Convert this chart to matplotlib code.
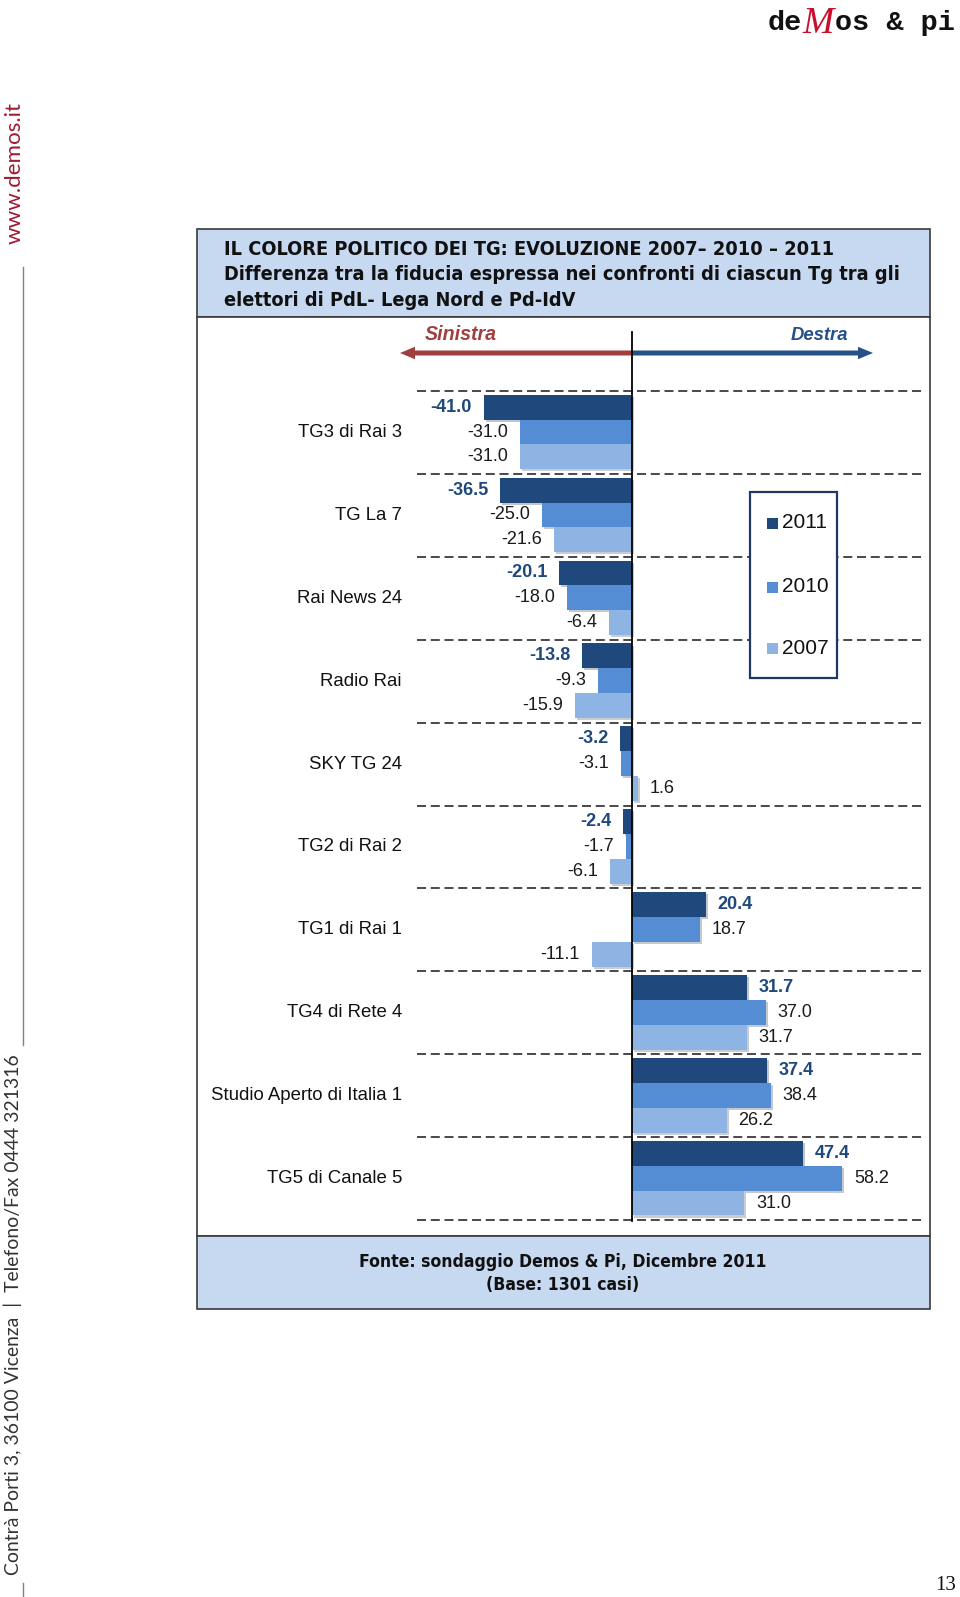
import matplotlib
matplotlib.use('Agg')
import matplotlib.pyplot as plt
from matplotlib import font_manager
from matplotlib.patches import Rectangle, FancyArrowPatch
from matplotlib.lines import Line2D
import matplotlib.patheffects as pe

plt.rcParams['lines.scale_dashes'] = False

# ---------------- data ----------------
categories = ['TG3 di Rai 3', 'TG La 7', 'Rai News 24', 'Radio Rai', 'SKY TG 24',
              'TG2 di Rai 2', 'TG1 di Rai 1', 'TG4 di Rete 4',
              'Studio Aperto di Italia 1', 'TG5 di Canale 5']
v2011 = [-41.0, -36.5, -20.1, -13.8, -3.2, -2.4, 20.4, 31.7, 37.4, 47.4]
v2010 = [-31.0, -25.0, -18.0, -9.3, -3.1, -1.7, 18.7, 37.0, 38.4, 58.2]
v2007 = [-31.0, -21.6, -6.4, -15.9, 1.6, -6.1, -11.1, 31.7, 26.2, 31.0]
years = ['2011', '2010', '2007']
series = [v2011, v2010, v2007]
colors = ['#1f497d', '#548dd4', '#8eb4e3']

title_lines = ['IL COLORE POLITICO DEI TG: EVOLUZIONE 2007\u2013 2010 \u2013 2011',
               'Differenza tra la fiducia espressa nei confronti di ciascun Tg tra gli',
               'elettori di PdL- Lega Nord e Pd-IdV']
footer_lines = ['Fonte: sondaggio Demos & Pi, Dicembre 2011', '(Base: 1301 casi)']
left_word = 'Sinistra'
right_word = 'Destra'
site_text = 'www.demos.it'
address_text = 'Contr\u00e0 Porti 3, 36100 Vicenza  |  Telefono/Fax 0444 321316'
page_number = '13'

# ---------------- figure ----------------
W, H = 960, 1597
fig = plt.figure(figsize=(W / 100, H / 100), dpi=100)
fig.patch.set_facecolor('white')
renderer = fig.canvas.get_renderer()


def fx(x):
    return x / W


def fy(y):
    return 1 - y / H


def has_font(name):
    try:
        font_manager.findfont(font_manager.FontProperties(family=name),
                              fallback_to_default=False)
        return True
    except Exception:
        return False


# pick a condensed bold face if one exists
NARROW_KW = dict(family=['Liberation Sans'])
if has_font('Liberation Sans Narrow'):
    NARROW_KW = dict(family=['Liberation Sans Narrow'])
else:
    try:
        p = font_manager.findfont(font_manager.FontProperties(
            family='DejaVu Sans', stretch='condensed', weight='bold'))
        if 'Condensed' in p:
            NARROW_KW = dict(family=['DejaVu Sans'], stretch='condensed')
        elif has_font('Roboto'):
            NARROW_KW = dict(family=['Roboto'])
    except Exception:
        pass
SANS = 'Liberation Sans'
HUMAN = 'Lato' if has_font('Lato') else 'Open Sans'


def fit(t, target, vertical=False):
    bb = t.get_window_extent(renderer)
    cur = bb.height if vertical else bb.width
    t.set_fontsize(t.get_fontsize() * target / cur)
    return t.get_fontsize()


# ---------------- boxes ----------------
L, R = 196.5, 929.5
box_kw = dict(transform=fig.transFigure, edgecolor='#3a3a3a', lw=1.2, zorder=-1)
fig.add_artist(Rectangle((fx(L), fy(317)), (R - L) / W, (317 - 229) / H,
                         facecolor='#c6d9f1', **box_kw))
fig.add_artist(Rectangle((fx(L), fy(1236)), (R - L) / W, (1236 - 317) / H,
                         facecolor='white', **box_kw))
fig.add_artist(Rectangle((fx(L), fy(1309)), (R - L) / W, (1309 - 1236) / H,
                         facecolor='#c6d9f1', **box_kw))

# title
tt = []
for i, line in enumerate(title_lines):
    tt.append(fig.text(fx(224), fy([249.5, 275, 300.5][i]), line, ha='left', va='center',
                       fontsize=14, fontweight='bold', color='#111111', **NARROW_KW))
fs = fit(tt[1], 679)
for t in tt:
    t.set_fontsize(fs)

# footer
ft = []
for i, line in enumerate(footer_lines):
    ft.append(fig.text(fx(563), fy([1262, 1284.5][i]), line, ha='center', va='center',
                       fontsize=13, fontweight='bold', color='#111111', **NARROW_KW))
fs = fit(ft[0], 406)
for t in ft:
    t.set_fontsize(fs)

# ---------------- chart axes ----------------
x_left_px, x_right_px, zero_px, ppu = 417, 922, 632, 3.615
top_px, bot_px = 391, 1220
ax = fig.add_axes([fx(x_left_px), fy(bot_px), (x_right_px - x_left_px) / W,
                   (bot_px - top_px) / H])
ax.set_zorder(2)
ax.set_xlim((x_left_px - zero_px) / ppu, (x_right_px - zero_px) / ppu)
ax.set_ylim(len(categories), 0)
ax.axis('off')

bh = 0.30
off = 0.045
shadow = [pe.SimplePatchShadow(offset=(1.5, -1.5), alpha=0.25), pe.Normal()]
for k, (vals, c) in enumerate(zip(series, colors)):
    ys = [i + off + bh * k + bh / 2 for i in range(len(categories))]
    ax.barh(ys, vals, height=bh, color=c, path_effects=shadow, zorder=3)
    for y, v in zip(ys, vals):
        ax.annotate(f'{v:.1f}', (v, y), xytext=(-8.5 if v < 0 else 8.5, 0),
                    textcoords='offset points', ha='right' if v < 0 else 'left',
                    va='center', fontsize=13, family=SANS,
                    fontweight='bold' if k == 0 else 'normal',
                    color='#1f497d' if k == 0 else '#1a1a1a', zorder=4)

for i in range(len(categories) + 1):
    ax.axhline(i, color='#3a3a3a', lw=1.3, linestyle=(0, (6.5, 3.4)), zorder=1,
               clip_on=False)

# category labels
ct = []
for i, cat in enumerate(categories):
    ct.append(fig.text(fx(402), fy(top_px + (i + 0.5) * (bot_px - top_px) / len(categories)),
                       cat, ha='right', va='center', fontsize=13.5, family=SANS,
                       color='#111111'))
fs = fit(ct[8], 191)
for t in ct:
    t.set_fontsize(fs)

# zero line
fig.add_artist(Line2D([fx(zero_px), fx(zero_px)], [fy(332), fy(1221)], color='black',
                      lw=1.3, transform=fig.transFigure, zorder=5))

# direction arrows
for x_end, col in [(400, '#a0403e'), (873, '#25508a')]:
    fig.add_artist(FancyArrowPatch((fx(zero_px), fy(353)), (fx(x_end), fy(353)),
                                   transform=fig.transFigure, shrinkA=0, shrinkB=0,
                                   arrowstyle='simple,head_length=0.6,head_width=0.5,tail_width=0.2',
                                   mutation_scale=18, color=col, lw=0))
t = fig.text(fx(461), fy(335), left_word, ha='center', va='center', fontsize=14,
             style='italic', fontweight='bold', family=SANS, color='#a0403e')
fit(t, 72)
t = fig.text(fx(819), fy(335), right_word, ha='center', va='center', fontsize=14,
             style='italic', fontweight='bold', family=SANS, color='#25508a')
fit(t, 58)

# legend (drawn above the chart's dashed lines)
fig.add_artist(Rectangle((fx(750), fy(678)), 87 / W, 186 / H, transform=fig.transFigure,
                         facecolor='white', edgecolor='#1f3864', lw=1.6, zorder=6))
for yy, lab, c in zip([523, 587, 648], years, colors):
    fig.add_artist(Rectangle((fx(767), fy(yy + 5.5)), 11 / W, 11 / H,
                             transform=fig.transFigure, facecolor=c, edgecolor='none',
                             zorder=7))
    fig.text(fx(782), fy(yy), lab, ha='left', va='center', fontsize=15, family=SANS,
             color='#111111', zorder=7)

# ---------------- page decorations ----------------
# logo
fig.text(fx(768), fy(30), 'de', ha='left', va='baseline', fontsize=20.5,
         family='Liberation Mono', fontweight='bold', color='#111111')
fig.text(fx(818), fy(33), 'M', ha='center', va='baseline', fontsize=27,
         family='Liberation Serif', style='italic', color='#c8102e')
fig.text(fx(835), fy(30), 'os & pi', ha='left', va='baseline', fontsize=20.5,
         family='Liberation Mono', fontweight='bold', color='#111111')

# left margin
t = fig.text(fx(15), fy(173), site_text, rotation=90, ha='center', va='center',
             fontsize=16, family=HUMAN, color='#9e1b32')
fit(t, 142, vertical=True)
fig.add_artist(Line2D([fx(22.5), fx(22.5)], [fy(267), fy(1045)], color='#808080', lw=1.0,
                      transform=fig.transFigure))
t = fig.text(fx(13), fy(1315), address_text, rotation=90, ha='center', va='center',
             fontsize=14, family=HUMAN, color='#333333')
fit(t, 522, vertical=True)
fig.add_artist(Line2D([fx(22.5), fx(22.5)], [fy(1583), fy(1597)], color='#808080', lw=1.0,
                      transform=fig.transFigure))

# page number
fig.text(fx(946), fy(1585), page_number, ha='center', va='center', fontsize=15,
         family='Liberation Serif', color='#111111')

fig.savefig('out.png', dpi=100)
